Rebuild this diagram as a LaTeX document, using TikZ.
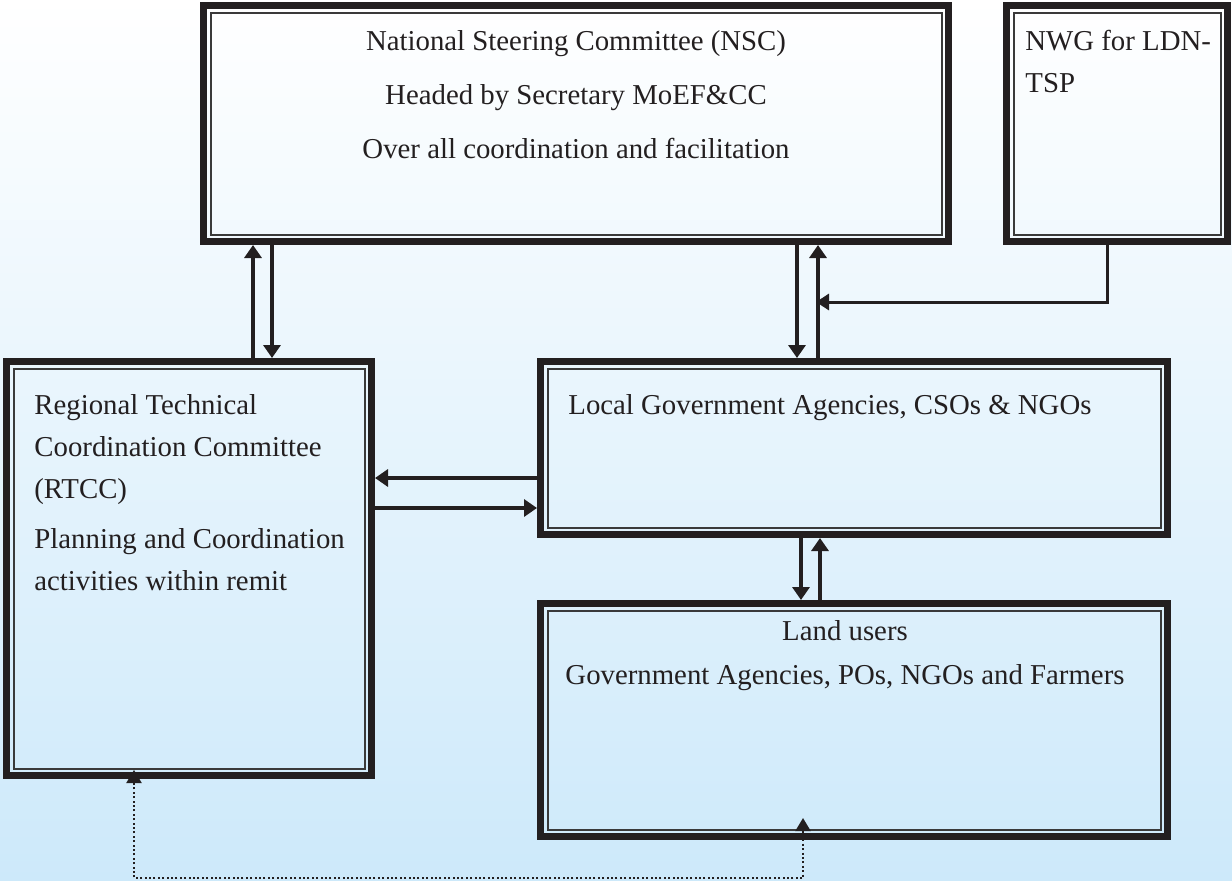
\documentclass[tikz,border=0pt]{standalone}
\usepackage{fontspec}
\setmainfont{Liberation Serif}
\usetikzlibrary{arrows.meta,calc}
\definecolor{lineblack}{HTML}{231F20}
\definecolor{innergray}{HTML}{3A3A3A}
\definecolor{bgtop}{HTML}{FFFFFF}
\definecolor{bgbot}{HTML}{CDE9FA}
\begin{document}
\begin{tikzpicture}[x=0.5pt,y=-0.5pt,
  box/.style={draw=lineblack, line width=3.5pt, inner sep=0pt},
  innerline/.style={draw=innergray, line width=1pt},
  arr/.style={draw=lineblack, line width=2.2pt, -{Triangle[width=8.5pt,length=6.5pt]}},
  thinarr/.style={draw=lineblack, line width=1.5pt, -{Triangle[width=8pt,length=6.5pt]}},
  dots/.style={draw=lineblack, line width=1pt, dash pattern=on 1pt off 1.2pt},
  txt/.style={font=\fontsize{14.4}{20.5}\selectfont, inner sep=0pt, text=lineblack}]
\useasboundingbox (0,0) rectangle (1232,880);
\fill[top color=bgtop, bottom color=bgbot] (0,0) rectangle (1232,880);

% boxes
\node[box, minimum width=372.5pt, minimum height=118pt] (nsc) at (576,123.5) {};
\node[box, minimum width=110.5pt, minimum height=118pt] (nwg) at (1117,123.5) {};
\node[box, minimum width=182.5pt, minimum height=207pt] (rtcc) at (189,568.5) {};
\node[box, minimum width=313.5pt, minimum height=86.5pt] (lga) at (854,448) {};
\node[box, minimum width=313.5pt, minimum height=116.5pt] (land) at (854,720) {};
\foreach \n in {nsc,nwg,rtcc,lga,land}
  \draw[innerline] ([shift={(5.25pt,-5.25pt)}]\n.north west) rectangle ([shift={(-5.25pt,5.25pt)}]\n.south east);

% texts
\node[txt, anchor=base] (t1) at (576,50) {National Steering Committee (NSC)};
\node[txt, anchor=base] (t2) at (576,104) {Headed by Secretary MoEF\&CC};
\node[txt, anchor=base] (t3) at (576,158) {Over all coordination and facilitation};
\node[txt, anchor=base west] (t4) at (1025,50) {NWG for LDN-};
\node[txt, anchor=base west] (t5) at (1025,92) {TSP};
\node[txt, anchor=base west] (t6) at (34,414) {Regional Technical};
\node[txt, anchor=base west] (t7) at (34,456) {Coordination Committee};
\node[txt, anchor=base west] (t8) at (34,498) {(RTCC)};
\node[txt, anchor=base west] (t9) at (34,548) {Planning and Coordination};
\node[txt, anchor=base west] (t10) at (34,590) {activities within remit};
\node[txt, anchor=base west] (t11) at (568,414) {Local Government Agencies, CSOs \& NGOs};
\node[txt, anchor=base] (t12) at (845,640) {Land users};
\node[txt, anchor=base] (t13) at (845,684) {Government Agencies, POs, NGOs and Farmers};

% connectors
\draw[arr] (rtcc.north -| 253,0) -- (nsc.south -| 253,0);
\draw[arr] (nsc.south -| 272,0) -- (rtcc.north -| 272,0);
\draw[arr] (nsc.south -| 797,0) -- (lga.north -| 797,0);
\draw[arr] (lga.north -| 818,0) -- (nsc.south -| 818,0);
\coordinate (nwgj) at (816,302);
\draw[thinarr] (nwg.south -| 1107,0) |- (nwgj);
\draw[arr] (lga.west |- 0,478) -- (rtcc.east |- 0,478);
\draw[arr] (rtcc.east |- 0,508) -- (lga.west |- 0,508);
\draw[arr] (lga.south -| 801,0) -- (land.north -| 801,0);
\draw[arr] (land.north -| 820,0) -- (lga.south -| 820,0);
\draw[dots, {Triangle[width=7.5pt,length=6.5pt]}-{Triangle[width=7.5pt,length=6.5pt]}, shorten <=-11pt, shorten >=-4.5pt]
  (land.south -| 803,0) -- (803,878) -- (134,878) -- (rtcc.south -| 134,0);
\end{tikzpicture}
\end{document}
